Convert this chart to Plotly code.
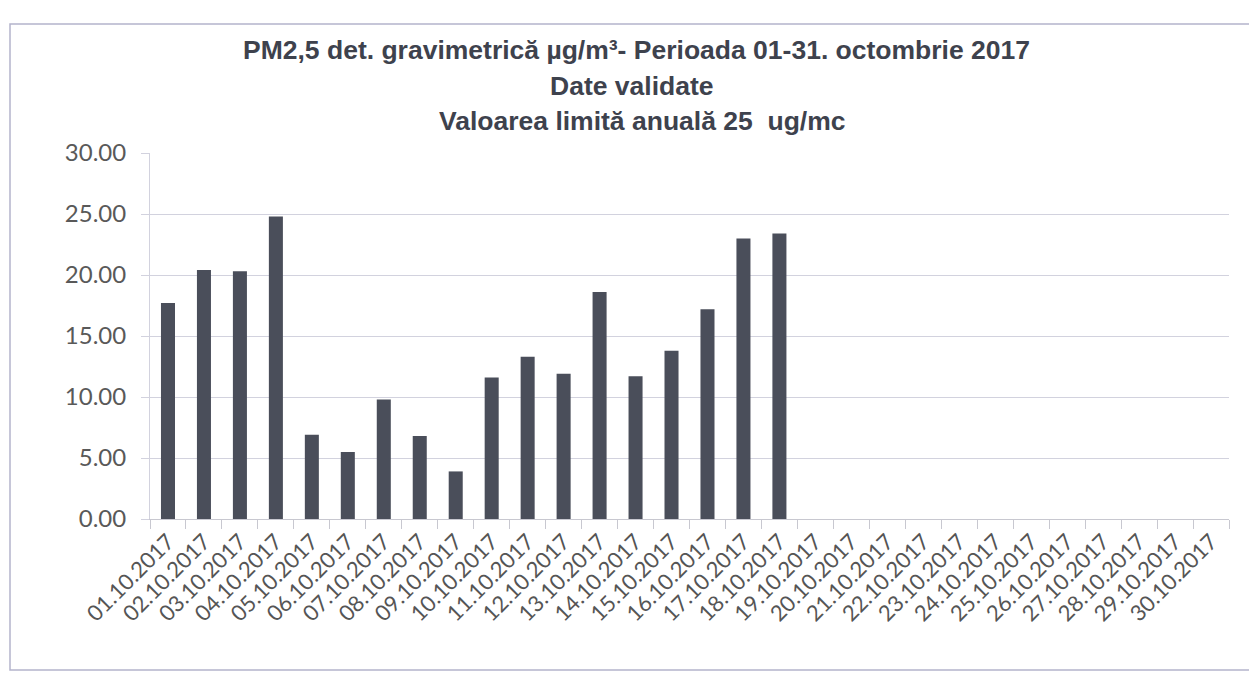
import plotly.graph_objects as go

dates = [f"{d:02d}.10.2017" for d in range(1, 31)]
values = [17.7, 20.4, 20.3, 24.8, 6.9, 5.5, 9.8, 6.8, 3.9, 11.6, 13.3, 11.9,
          18.6, 11.7, 13.8, 17.2, 23.0, 23.4]
values_full = values + [None] * (len(dates) - len(values))

title_lines = [
    "PM2,5 det. gravimetrică µg/m³- Perioada 01-31. octombrie 2017",
    "Date validate",
    "Valoarea limită anuală 25  ug/mc",
]
y_ticks = [0, 5, 10, 15, 20, 25, 30]

# page body has an 8px margin, so figure coordinates are shifted by 8px
W, H = 1249, 667
L, R, T, B = 142, 28, 145, 156
pw, ph = W - L - R, H - T - B

def px_x(x):
    return (x - L) / pw

def px_y(y):
    return (H - B - y) / ph

fig = go.Figure()
fig.add_trace(go.Bar(
    x=dates, y=values_full,
    marker=dict(color="#4a4e5a", line=dict(width=0)),
    width=0.39,
))

title_y = [42, 78, 113]
title_x = [628, 624, 634]
for txt, yy, xx in zip(title_lines, title_y, title_x):
    fig.add_annotation(
        text=f"<b>{txt}</b>", x=px_x(xx), y=px_y(yy), xref="paper", yref="paper",
        showarrow=False, xanchor="center", yanchor="middle",
        font=dict(family="Liberation Sans, Arial", size=26.5, color="#3e424d"),
    )

fig.add_shape(type="rect", xref="paper", yref="paper",
              x0=px_x(2), x1=px_x(1247), y0=px_y(662), y1=px_y(16),
              line=dict(color="#b4b4cc", width=1.5))

fig.update_layout(
    width=W, height=H,
    margin=dict(l=L, r=R, t=T, b=B),
    paper_bgcolor="white", plot_bgcolor="white",
    showlegend=False,
    xaxis=dict(
        type="category", tickangle=-45, tickson="boundaries",
        ticks="outside", ticklen=9, tickcolor="#c8c8d0",
        showline=True, linecolor="#c8c8d0", linewidth=1,
        showgrid=False,
        tickfont=dict(family="Lato, Carlito, sans-serif", size=22, color="#555555"),
    ),
    yaxis=dict(
        range=[0, 30], tickvals=y_ticks, tickformat=".2f",
        showgrid=True, gridcolor="#d2d2de", gridwidth=1,
        showline=True, linecolor="#d2d2de", linewidth=1,
        ticks="outside", ticklen=8, tickcolor="#d2d2de", zeroline=False,
        ticklabelstandoff=10,
        tickfont=dict(family="Lato, Carlito, sans-serif", size=24, color="#595959"),
    ),
)

fig.write_html("out.html")
